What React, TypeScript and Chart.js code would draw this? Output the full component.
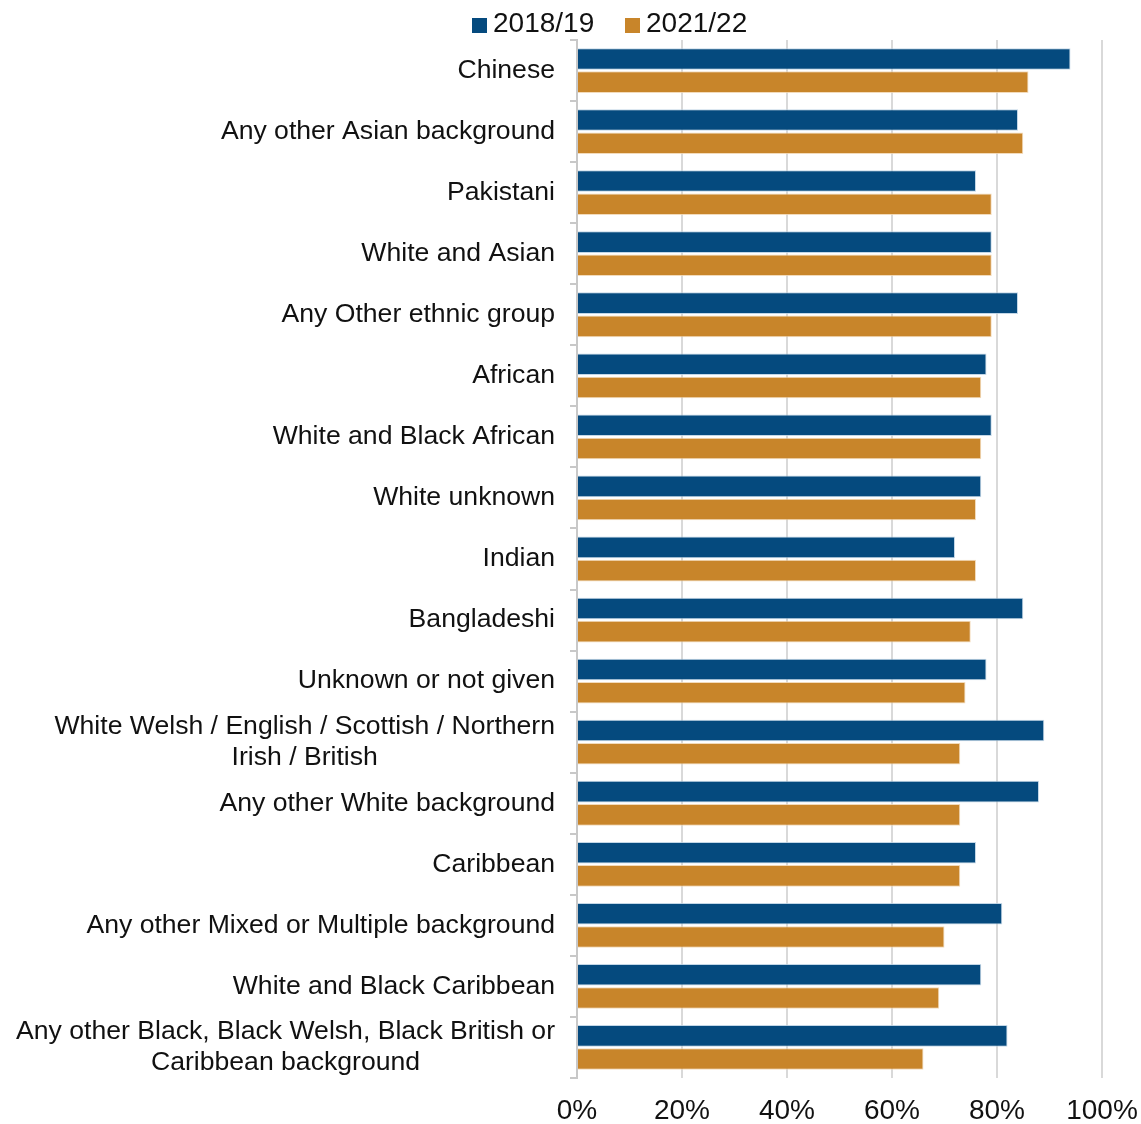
import React, { useEffect, useRef } from "react";
import { Chart, registerables } from "chart.js";

Chart.register(...registerables);

// Ethnic group categories (top to bottom); long names wrap onto two lines
const categories: (string | string[])[] = [
  "Chinese",
  "Any other Asian background",
  "Pakistani",
  "White and Asian",
  "Any Other ethnic group",
  "African",
  "White and Black African",
  "White unknown",
  "Indian",
  "Bangladeshi",
  "Unknown or not given",
  ["White Welsh / English / Scottish / Northern", "Irish / British"],
  "Any other White background",
  "Caribbean",
  "Any other Mixed or Multiple background",
  "White and Black Caribbean",
  ["Any other Black, Black Welsh, Black British or", "Caribbean background"],
];

const seriesNames = ["2018/19", "2021/22"];
const values2018 = [94, 84, 76, 79, 84, 78, 79, 77, 72, 85, 78, 89, 88, 76, 81, 77, 82];
const values2021 = [86, 85, 79, 79, 79, 77, 77, 76, 76, 75, 74, 73, 73, 73, 70, 69, 66];

const xMin = 0;
const xMax = 100;
const xStep = 20;

const BLUE = "#054a7e";
const ORANGE = "#c8852a";
const FONT = '"Liberation Sans", Arial, sans-serif';
const TEXT = "#111111";

// Draws the category names right-aligned against the axis, with wrapped
// lines centred on each other.
const categoryLabels = {
  id: "categoryLabels",
  afterDraw(chart: any) {
    const scale = chart.scales.y;
    const ctx = chart.ctx as CanvasRenderingContext2D;
    ctx.save();
    ctx.font = `26.6px ${FONT}`;
    ctx.fillStyle = TEXT;
    ctx.textBaseline = "middle";
    ctx.textAlign = "center";
    const right = scale.right - 22;
    const lineHeight = 31;
    categories.forEach((label, i) => {
      const lines = Array.isArray(label) ? label : [label];
      const widest = Math.max(...lines.map((l) => ctx.measureText(l).width));
      const cx = right - widest / 2;
      const cy = scale.getPixelForValue(i);
      lines.forEach((line, j) => {
        ctx.fillText(line, cx, cy + (j - (lines.length - 1) / 2) * lineHeight);
      });
    });
    ctx.restore();
  },
};

function Legend() {
  const items = [
    { name: seriesNames[0], color: BLUE, box: 472, text: 493 },
    { name: seriesNames[1], color: ORANGE, box: 625, text: 646 },
  ];
  return (
    <>
      {items.map((it) => (
        <React.Fragment key={it.name}>
          <div
            style={{
              position: "absolute",
              left: it.box,
              top: 18,
              width: 15,
              height: 15,
              background: it.color,
            }}
          />
          <div
            style={{
              position: "absolute",
              left: it.text,
              top: 9,
              font: `28px ${FONT}`,
              lineHeight: "28px",
              color: TEXT,
              whiteSpace: "nowrap",
            }}
          >
            {it.name}
          </div>
        </React.Fragment>
      ))}
    </>
  );
}

export default function App() {
  const canvasRef = useRef<HTMLCanvasElement | null>(null);

  useEffect(() => {
    document.body.style.margin = "0";
    const canvas = canvasRef.current;
    if (!canvas) return;
    const chart = new Chart(canvas, {
      type: "bar",
      data: {
        labels: categories.map((c) => (Array.isArray(c) ? c.join(" ") : c)),
        datasets: [
          {
            label: seriesNames[0],
            data: values2018,
            backgroundColor: BLUE,
            borderColor: "rgba(180,205,225,0.8)",
            borderWidth: 1,
            categoryPercentage: 0.76,
            barPercentage: 0.93,
          },
          {
            label: seriesNames[1],
            data: values2021,
            backgroundColor: ORANGE,
            borderColor: "rgba(240,210,170,0.8)",
            borderWidth: 1,
            categoryPercentage: 0.76,
            barPercentage: 0.93,
          },
        ],
      },
      options: {
        indexAxis: "y",
        responsive: false,
        animation: false,
        layout: { padding: { top: 40, right: 39, left: 0, bottom: 0 } },
        plugins: {
          legend: { display: false },
          tooltip: { enabled: false },
        },
        scales: {
          x: {
            min: xMin,
            max: xMax,
            grid: {
              color: "#d9d9d9",
              lineWidth: 2,
              drawTicks: false,
            },
            border: { display: false },
            ticks: {
              stepSize: xStep,
              padding: 16,
              color: TEXT,
              font: { size: 28, family: FONT },
              callback: (v: any) => `${v}%`,
            },
            afterFit: (s: any) => {
              s.height = 46;
              s.paddingLeft = 0;
              s.paddingRight = 0;
            },
          },
          y: {
            grid: {
              display: true,
              drawOnChartArea: false,
              drawTicks: true,
              tickLength: 7,
              color: "#c8c8c8",
              lineWidth: 2,
              offset: true,
            },
            border: { display: true, color: "#c8c8c8", width: 2 },
            ticks: { display: false },
            afterFit: (s: any) => {
              s.width = 577;
            },
          },
        },
      },
      plugins: [categoryLabels],
    });
    return () => chart.destroy();
  }, []);

  return (
    <div style={{ position: "relative", width: 1141, height: 1124 }}>
      <canvas ref={canvasRef} width={1141} height={1124} style={{ display: "block" }} />
      <Legend />
    </div>
  );
}
